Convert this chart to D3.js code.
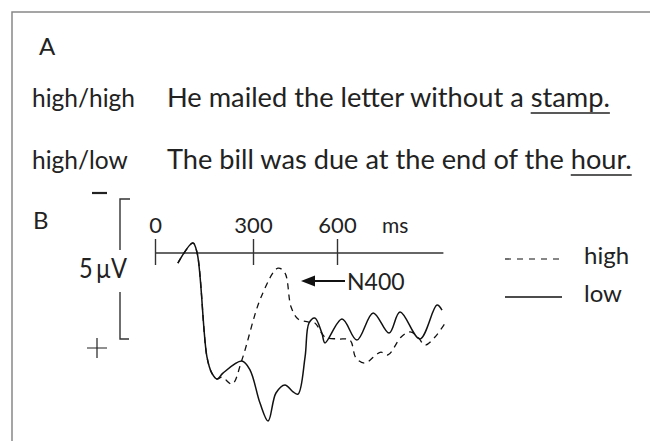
<!DOCTYPE html>
<html>
<head>
<meta charset="utf-8">
<script src="https://cdn.jsdelivr.net/npm/d3@7"></script>
<style>
  body { margin: 0; background: #fff; }
  text { font-family: Lato, "Open Sans", sans-serif; fill: #222; }
</style>
</head>
<body>
<div id="chart"></div>
<script>
// stimulus sentences (panel A)
var conditions = ["high/high", "high/low"];
var sentences = ["He mailed the letter without a ", "The bill was due at the end of the "];
var targetWords = ["stamp.", "hour."];

// ERP waveforms (panel B), time in ms, amplitude in microvolts (negative up)
var timeTicks = [0, 300, 600];
var highTime = [70, 116, 129, 159, 174, 190, 205, 236, 266, 329, 389, 414, 436, 461, 496, 521, 557, 604, 646, 668, 700, 739, 757, 782, 829, 861, 889, 914, 950, 989];
var highAmp  = [0.36, -0.36, 0, 3.71, 4.29, 4.5, 4.43, 4.68, 3.82, 1.57, 0.54, 0.71, 1.93, 2.36, 2.46, 2.5, 3.0, 3.07, 3.11, 3.75, 3.93, 3.64, 3.54, 3.64, 3.0, 2.82, 3.0, 3.29, 3.0, 2.46];
var lowTime  = [70, 116, 129, 159, 174, 190, 208, 266, 291, 325, 354, 382, 414, 443, 461, 486, 500, 521, 546, 557, 618, 671, 729, 786, 825, 896, 957, 975];
var lowAmp   = [0.36, -0.36, 0, 3.71, 4.29, 4.5, 4.29, 3.86, 4.18, 5.36, 6.0, 5.0, 4.71, 4.96, 5.04, 3.71, 2.5, 2.32, 2.86, 3.21, 2.36, 3.11, 2.14, 2.86, 2.11, 3.07, 1.86, 2.04];
var legendLabels = ["high", "low"];

var width = 650, height = 441;

var svg = d3.select("#chart").append("svg")
    .attr("width", width)
    .attr("height", height);

// frame
svg.append("path")
    .attr("d", "M12," + height + "V12H" + width)
    .attr("fill", "none")
    .attr("stroke", "#888")
    .attr("stroke-width", 1.5);

// ---- panel A
svg.append("text")
    .attr("x", 39).attr("y", 55)
    .attr("font-size", "24px")
    .text("A");

var rowY = [107, 169];
var rowEnd = [610, 632];   // right edge of each sentence
conditions.forEach(function(c, i){
    svg.append("text")
        .attr("x", 32).attr("y", rowY[i])
        .attr("font-size", "24.5px")
        .text(c);

    var t = svg.append("text")
        .attr("x", 167).attr("y", rowY[i])
        .attr("font-size", "25px")
        .attr("xml:space", "preserve");
    t.append("tspan").text(sentences[i]);
    var w = t.append("tspan").text(targetWords[i]);
    // scale the font so the sentence fills the same width as the original
    var len = t.node().getComputedTextLength();
    t.attr("font-size", (25 * (rowEnd[i] - 167) / len) + "px");
    var bb = w.node().getBBox();
    svg.append("line")
        .attr("x1", bb.x).attr("x2", bb.x + bb.width)
        .attr("y1", rowY[i] + 6).attr("y2", rowY[i] + 6)
        .attr("stroke", "#222")
        .attr("stroke-width", 1.3);
});

// ---- panel B
svg.append("text")
    .attr("x", 33).attr("y", 229)
    .attr("font-size", "24px")
    .text("B");

var x = d3.scaleLinear()
    .domain(timeTicks)
    .range([155, 253, 337]);

var y = d3.scaleLinear()
    .domain([0, 5])
    .range([253, 393]);

// time axis
var axisG = svg.append("g")
    .attr("transform", "translate(0," + y(0) + ")");

axisG.append("line")
    .attr("x1", x(0)).attr("x2", x(980))
    .attr("stroke", "#333")
    .attr("stroke-width", 1.5);

axisG.call(d3.axisTop(x).tickValues(timeTicks).tickSize(14).tickPadding(6))
    .call(function(g){ g.select(".domain").remove(); })
    .call(function(g){ g.selectAll(".tick line").attr("y1", 12).attr("stroke", "#333").attr("stroke-width", 1.4); })
    .call(function(g){ g.selectAll(".tick text").attr("font-size", "22px").attr("font-family", "Lato, sans-serif").attr("fill", "#222"); });

svg.append("text")
    .attr("x", 382).attr("y", 233)
    .attr("font-size", "21px")
    .text("ms");

// 5 microvolt calibration bar
var barTop = 199, barX = 120;
var barBot = barTop + (y(5) - y(0));
svg.append("path")
    .attr("d", "M" + (barX + 10) + "," + barTop + "H" + barX + "V250")
    .attr("fill", "none").attr("stroke", "#333").attr("stroke-width", 1.4);
svg.append("path")
    .attr("d", "M" + barX + ",292V" + barBot + "H" + (barX + 9))
    .attr("fill", "none").attr("stroke", "#333").attr("stroke-width", 1.4);

svg.append("text")
    .attr("x", 79).attr("y", 278)
    .attr("font-size", "27px")
    .attr("textLength", 48)
    .attr("lengthAdjust", "spacingAndGlyphs")
    .text("5\u2009\u00b5V");

svg.append("line")
    .attr("x1", 92).attr("x2", 107).attr("y1", 193).attr("y2", 193)
    .attr("stroke", "#222").attr("stroke-width", 2.2);
svg.append("path")
    .attr("d", "M87,348H107M97,338V358")
    .attr("stroke", "#222").attr("stroke-width", 1.2);

// waveforms
var line = d3.line()
    .x(function(d){ return x(d[0]); })
    .y(function(d){ return y(d[1]); })
    .curve(d3.curveCatmullRom.alpha(0.5));

svg.append("path")
    .datum(d3.zip(highTime, highAmp))
    .attr("d", line)
    .attr("fill", "none")
    .attr("stroke", "#111")
    .attr("stroke-width", 1.3)
    .attr("stroke-dasharray", "6,5");

svg.append("path")
    .datum(d3.zip(lowTime, lowAmp))
    .attr("d", line)
    .attr("fill", "none")
    .attr("stroke", "#111")
    .attr("stroke-width", 1.5);

// N400 annotation
svg.append("path")
    .attr("d", "M301,281L315,275.5L315,286.5Z")
    .attr("fill", "#111");
svg.append("line")
    .attr("x1", 312).attr("x2", 345).attr("y1", 281).attr("y2", 281)
    .attr("stroke", "#111").attr("stroke-width", 2);
svg.append("text")
    .attr("x", 347).attr("y", 290)
    .attr("font-size", "23px")
    .text("N400");

// legend
var legY = [259, 297];
legendLabels.forEach(function(l, i){
    svg.append("line")
        .attr("x1", 505).attr("x2", 562)
        .attr("y1", legY[i]).attr("y2", legY[i])
        .attr("stroke", "#111")
        .attr("stroke-width", i == 0 ? 1.2 : 1.5)
        .attr("stroke-dasharray", i == 0 ? "6,6" : null);
    svg.append("text")
        .attr("x", 584).attr("y", legY[i] + 5)
        .attr("font-size", "24px")
        .text(l);
});
</script>
</body>
</html>
